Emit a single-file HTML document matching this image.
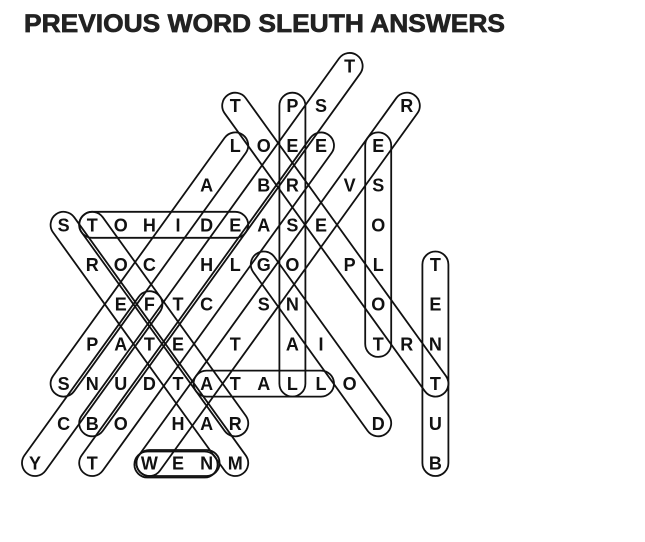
<!DOCTYPE html>
<html><head><meta charset="utf-8"><style>
html,body{margin:0;padding:0;background:#fff;}
svg{display:block;}
</style></head><body>
<svg width="645" height="542" viewBox="0 0 645 542" xmlns="http://www.w3.org/2000/svg">
<text x="24" y="32" font-family="Liberation Sans, sans-serif" font-weight="bold" font-size="25" textLength="481" lengthAdjust="spacingAndGlyphs" fill="#222" stroke="#222" stroke-width="0.7">PREVIOUS WORD SLEUTH ANSWERS</text>
<g fill="none" stroke="#111" stroke-width="1.8">
<rect transform="translate(63.6,383.6) rotate(-54.23)" x="-13" y="-13" width="319.6" height="26" rx="13"/>
<rect transform="translate(35,463) rotate(-54.23)" x="-13" y="-13" width="221.7" height="26" rx="13"/>
<rect transform="translate(92.2,423.3) rotate(-54.23)" x="-13" y="-13" width="466.4" height="26" rx="13"/>
<rect transform="translate(92.2,463) rotate(-54.23)" x="-13" y="-13" width="417.4" height="26" rx="13"/>
<rect transform="translate(149.4,463) rotate(-54.23)" x="-13" y="-13" width="466.4" height="26" rx="13"/>
<rect transform="translate(263.8,264.5) rotate(54.23)" x="-13" y="-13" width="221.7" height="26" rx="13"/>
<rect transform="translate(235.2,105.7) rotate(54.23)" x="-13" y="-13" width="368.5" height="26" rx="13"/>
<rect transform="translate(63.6,224.8) rotate(54.23)" x="-13" y="-13" width="319.6" height="26" rx="13"/>
<rect transform="translate(92.2,224.8) rotate(54.23)" x="-13" y="-13" width="270.7" height="26" rx="13"/>
<rect transform="translate(92.2,224.8)" x="-13" y="-13" width="169" height="26" rx="13"/>
<rect transform="translate(206.6,383.6)" x="-13" y="-13" width="140.4" height="26" rx="13"/>
<rect transform="translate(149.4,463)" x="-13" y="-13" width="83.2" height="26" rx="13"/>
<rect transform="translate(147.4,464.5)" x="-13" y="-13" width="83.2" height="26" rx="13"/>
<rect transform="translate(292.4,105.7) rotate(90)" x="-13" y="-13" width="303.9" height="26" rx="13"/>
<rect transform="translate(378.2,145.4) rotate(90)" x="-13" y="-13" width="224.5" height="26" rx="13"/>
<rect transform="translate(435.4,264.5) rotate(90)" x="-13" y="-13" width="224.5" height="26" rx="13"/>
</g>
<g font-family="Liberation Sans, sans-serif" font-weight="bold" font-size="18" fill="#111" text-anchor="middle">
<text x="349.6" y="72.5">T</text>
<text x="235.2" y="112.2">T</text><text x="292.4" y="112.2">P</text><text x="321" y="112.2">S</text><text x="406.8" y="112.2">R</text>
<text x="235.2" y="151.9">L</text><text x="263.8" y="151.9">O</text><text x="292.4" y="151.9">E</text><text x="321" y="151.9">E</text><text x="378.2" y="151.9">E</text>
<text x="206.6" y="191.6">A</text><text x="263.8" y="191.6">B</text><text x="292.4" y="191.6">R</text><text x="349.6" y="191.6">V</text><text x="378.2" y="191.6">S</text>
<text x="63.6" y="231.3">S</text><text x="92.2" y="231.3">T</text><text x="120.8" y="231.3">O</text><text x="149.4" y="231.3">H</text><text x="178" y="231.3">I</text><text x="206.6" y="231.3">D</text><text x="235.2" y="231.3">E</text><text x="263.8" y="231.3">A</text><text x="292.4" y="231.3">S</text><text x="321" y="231.3">E</text><text x="378.2" y="231.3">O</text>
<text x="92.2" y="271">R</text><text x="120.8" y="271">O</text><text x="149.4" y="271">C</text><text x="206.6" y="271">H</text><text x="235.2" y="271">L</text><text x="263.8" y="271">G</text><text x="292.4" y="271">O</text><text x="349.6" y="271">P</text><text x="378.2" y="271">L</text><text x="435.4" y="271">T</text>
<text x="120.8" y="310.7">E</text><text x="149.4" y="310.7">F</text><text x="178" y="310.7">T</text><text x="206.6" y="310.7">C</text><text x="263.8" y="310.7">S</text><text x="292.4" y="310.7">N</text><text x="378.2" y="310.7">O</text><text x="435.4" y="310.7">E</text>
<text x="92.2" y="350.4">P</text><text x="120.8" y="350.4">A</text><text x="149.4" y="350.4">T</text><text x="178" y="350.4">E</text><text x="235.2" y="350.4">T</text><text x="292.4" y="350.4">A</text><text x="321" y="350.4">I</text><text x="378.2" y="350.4">T</text><text x="406.8" y="350.4">R</text><text x="435.4" y="350.4">N</text>
<text x="63.6" y="390.1">S</text><text x="92.2" y="390.1">N</text><text x="120.8" y="390.1">U</text><text x="149.4" y="390.1">D</text><text x="178" y="390.1">T</text><text x="206.6" y="390.1">A</text><text x="235.2" y="390.1">T</text><text x="263.8" y="390.1">A</text><text x="292.4" y="390.1">L</text><text x="321" y="390.1">L</text><text x="349.6" y="390.1">O</text><text x="435.4" y="390.1">T</text>
<text x="63.6" y="429.8">C</text><text x="92.2" y="429.8">B</text><text x="120.8" y="429.8">O</text><text x="178" y="429.8">H</text><text x="206.6" y="429.8">A</text><text x="235.2" y="429.8">R</text><text x="378.2" y="429.8">D</text><text x="435.4" y="429.8">U</text>
<text x="35" y="469.5">Y</text><text x="92.2" y="469.5">T</text><text x="149.4" y="469.5">W</text><text x="178" y="469.5">E</text><text x="206.6" y="469.5">N</text><text x="235.2" y="469.5">M</text><text x="435.4" y="469.5">B</text>
</g>
</svg>
</body></html>
